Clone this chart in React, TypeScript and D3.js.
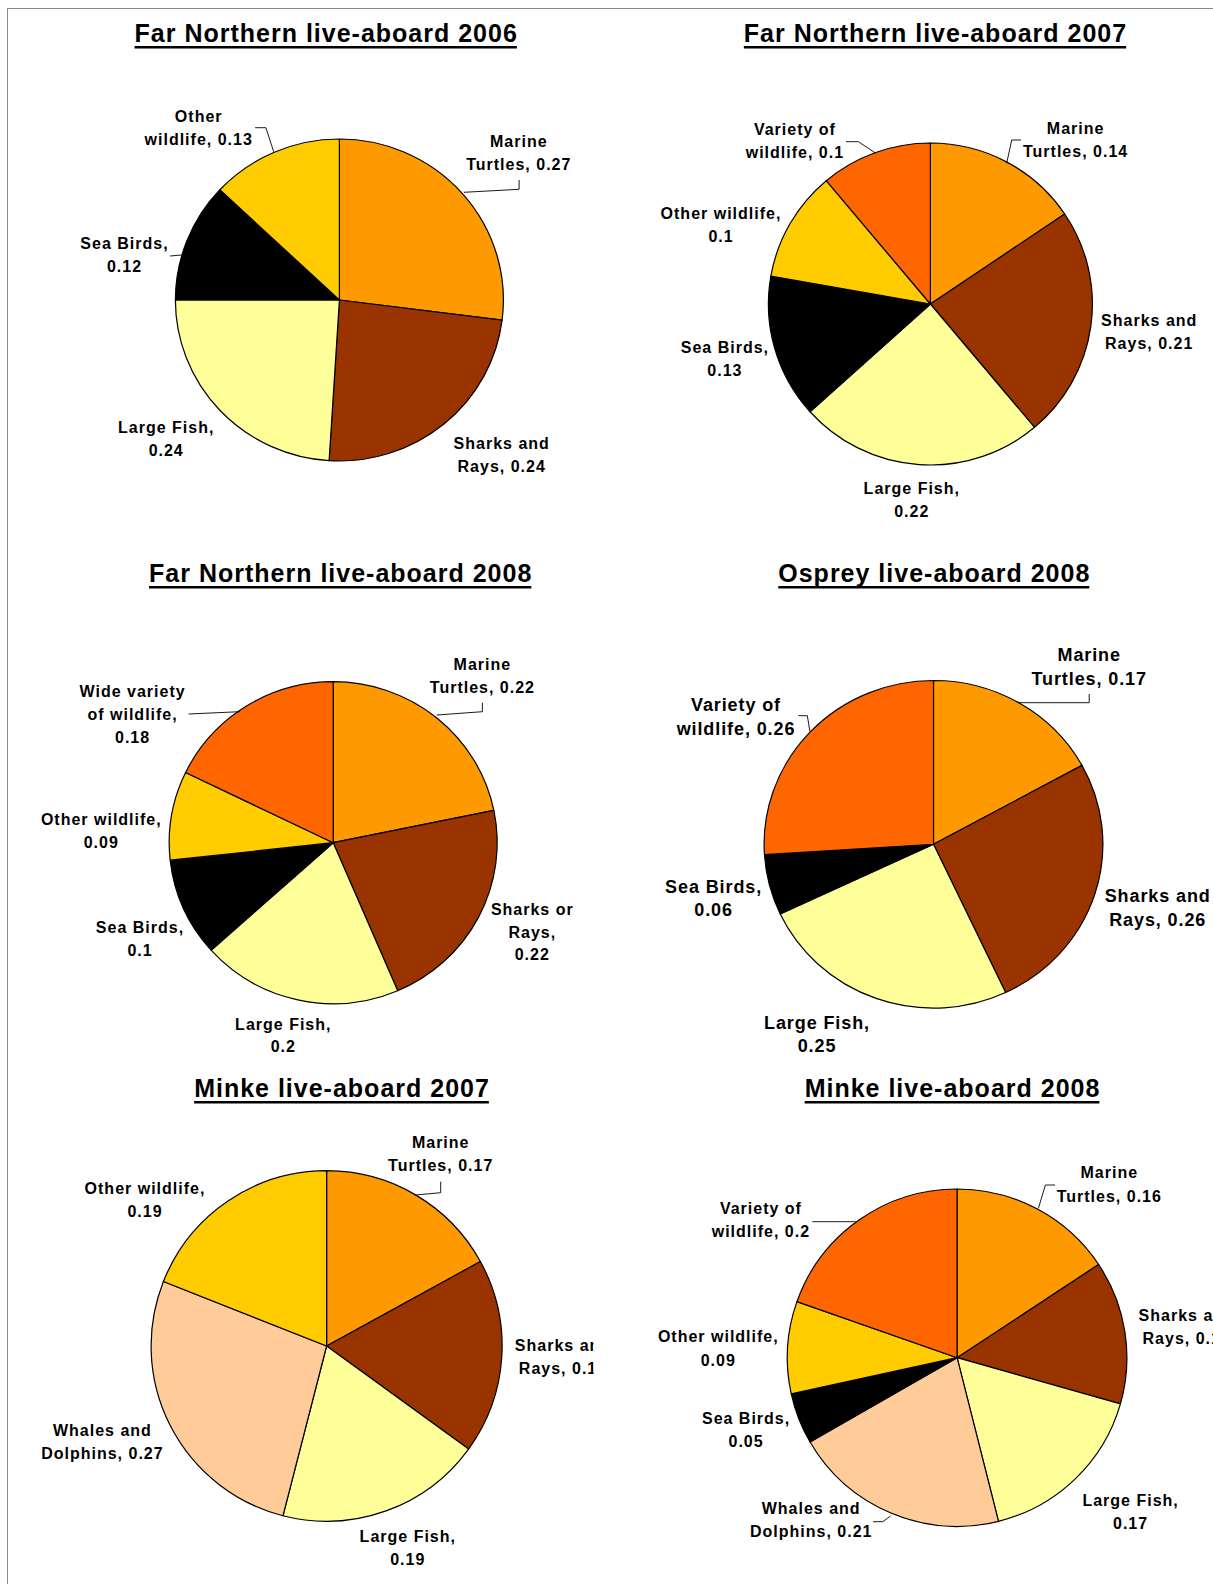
import React, { useEffect, useRef } from "react";
import * as d3 from "d3";

// ---------- DATA ----------
const TITLES = [
  "Far Northern live-aboard 2006",
  "Far Northern live-aboard 2007",
  "Far Northern live-aboard 2008",
  "Osprey live-aboard 2008",
  "Minke live-aboard 2007",
  "Minke live-aboard 2008",
];

const FN2006_CATEGORIES = ["Marine Turtles", "Sharks and Rays", "Large Fish", "Sea Birds", "Other wildlife"];
const FN2006_VALUES = [0.27, 0.24, 0.24, 0.12, 0.13];

const FN2007_CATEGORIES = ["Marine Turtles", "Sharks and Rays", "Large Fish", "Sea Birds", "Other wildlife", "Variety of wildlife"];
const FN2007_VALUES = [0.14, 0.21, 0.22, 0.13, 0.1, 0.1];

const FN2008_CATEGORIES = ["Marine Turtles", "Sharks or Rays", "Large Fish", "Sea Birds", "Other wildlife", "Wide variety of wildlife"];
const FN2008_VALUES = [0.22, 0.22, 0.2, 0.1, 0.09, 0.18];

const OSPREY2008_CATEGORIES = ["Marine Turtles", "Sharks and Rays", "Large Fish", "Sea Birds", "Variety of wildlife"];
const OSPREY2008_VALUES = [0.17, 0.26, 0.25, 0.06, 0.26];

const MINKE2007_CATEGORIES = ["Marine Turtles", "Sharks and Rays", "Large Fish", "Whales and Dolphins", "Other wildlife"];
const MINKE2007_VALUES = [0.17, 0.18, 0.19, 0.27, 0.19];

const MINKE2008_CATEGORIES = ["Marine Turtles", "Sharks and Rays", "Large Fish", "Whales and Dolphins", "Sea Birds", "Other wildlife", "Variety of wildlife"];
const MINKE2008_VALUES = [0.16, 0.14, 0.17, 0.21, 0.05, 0.09, 0.2];

// ---------- STYLES ----------
const COLORS: Record<string, string> = {
  "Marine Turtles": "#FF9900",
  "Sharks and Rays": "#993300",
  "Sharks or Rays": "#993300",
  "Large Fish": "#FFFF99",
  "Sea Birds": "#000000",
  "Other wildlife": "#FFCC00",
  "Variety of wildlife": "#FF6600",
  "Wide variety of wildlife": "#FF6600",
  "Whales and Dolphins": "#FFCC99",
};

const FONT = "'Liberation Sans', Arial, Helvetica, sans-serif";

type Pt = [number, number];
type LabelLayout = { x: number; y: number; lines: number[]; leader?: Pt[] };
type ChartLayout = {
  cx: number; cy: number; rx: number; ry: number;
  titleX: number; titleY: number;
  fs: number; ls: number; gap: number;
  clip: boolean;
  labels: LabelLayout[];
};

// ---------- LAYOUT ----------
const LAYOUTS: ChartLayout[] = [
  {
    cx: 339.4, cy: 300, rx: 164, ry: 161, titleX: 326.2, titleY: 41.7, fs: 16, ls: 1.0, gap: 22.7, clip: true,
    labels: [
      { x: 518.8, y: 141.7, lines: [1, 2], leader: [[519.1, 180], [519.1, 189.3], [463.9, 192.3]] },
      { x: 501.7, y: 443.3, lines: [2, 2] },
      { x: 166.2, y: 427.3, lines: [2, 1] },
      { x: 124.5, y: 243.3, lines: [2, 1], leader: [[170, 256], [181.5, 255]] },
      { x: 198.7, y: 116.7, lines: [1, 2], leader: [[255.1, 127.7], [265.9, 127.7], [273.7, 151.7]] },
    ],
  },
  {
    cx: 930.4, cy: 304, rx: 162, ry: 161, titleX: 935.5, titleY: 41.7, fs: 16, ls: 1.0, gap: 22.7, clip: false,
    labels: [
      { x: 1075.6, y: 128.3, lines: [1, 2], leader: [[1021, 140], [1011.7, 140], [1006.7, 163.3]] },
      { x: 1149.2, y: 320.7, lines: [2, 2] },
      { x: 911.8, y: 488.3, lines: [2, 1] },
      { x: 724.9, y: 347.3, lines: [2, 1] },
      { x: 721, y: 213.3, lines: [2, 1] },
      { x: 794.9, y: 129.3, lines: [2, 2], leader: [[846, 141.7], [858.4, 141.7], [875.8, 153.3]] },
    ],
  },
  {
    cx: 333.2, cy: 842.7, rx: 164, ry: 161, titleX: 340.7, titleY: 581.7, fs: 16, ls: 1.0, gap: 22.7, clip: true,
    labels: [
      { x: 482.4, y: 664.3, lines: [1, 2], leader: [[482.4, 702.7], [482.4, 711.7], [436.8, 715]] },
      { x: 532.3, y: 909.3, lines: [2, 1, 1] },
      { x: 283.3, y: 1024, lines: [2, 1] },
      { x: 140, y: 927.3, lines: [2, 1] },
      { x: 101.3, y: 819.3, lines: [2, 1] },
      { x: 132.6, y: 691.7, lines: [2, 2, 1], leader: [[188.6, 714], [239.7, 711.7]] },
    ],
  },
  {
    cx: 933.5, cy: 844.3, rx: 169.4, ry: 163.8, titleX: 934.3, titleY: 581.7, fs: 18, ls: 0.9, gap: 23.3, clip: false,
    labels: [
      { x: 1089.2, y: 655, lines: [1, 2], leader: [[1089.2, 694], [1089.2, 702.7], [1018.3, 702.7]] },
      { x: 1157.7, y: 896, lines: [2, 2] },
      { x: 817, y: 1022.7, lines: [2, 1] },
      { x: 713.6, y: 886.7, lines: [2, 1] },
      { x: 736, y: 705, lines: [2, 2], leader: [[798.4, 715.7], [807.3, 715.7], [810, 731.7]] },
    ],
  },
  {
    cx: 326.6, cy: 1346, rx: 175.5, ry: 175.3, titleX: 342, titleY: 1096.7, fs: 16, ls: 1.0, gap: 23, clip: true,
    labels: [
      { x: 440.7, y: 1142.7, lines: [1, 2], leader: [[440.7, 1181.7], [440.7, 1192.7], [415.5, 1195]] },
      { x: 563, y: 1345, lines: [2, 2] },
      { x: 407.8, y: 1536, lines: [2, 1] },
      { x: 102.4, y: 1430.7, lines: [2, 2] },
      { x: 145, y: 1188.3, lines: [2, 1] },
    ],
  },
  {
    cx: 957.1, cy: 1357.7, rx: 169.8, ry: 168.7, titleX: 952.5, titleY: 1096.7, fs: 16, ls: 1.0, gap: 23.3, clip: false,
    labels: [
      { x: 1109.3, y: 1172.7, lines: [1, 2], leader: [[1055, 1185], [1045.4, 1185], [1038.4, 1208.3]] },
      { x: 1186.7, y: 1315, lines: [2, 2] },
      { x: 1130.6, y: 1500, lines: [2, 1] },
      { x: 811.2, y: 1508.3, lines: [2, 2], leader: [[873.1, 1521.7], [882.8, 1521.7], [890.5, 1516]] },
      { x: 746.1, y: 1418.3, lines: [2, 1] },
      { x: 718.3, y: 1336.7, lines: [2, 1] },
      { x: 760.9, y: 1208.3, lines: [2, 2], leader: [[812.3, 1221.7], [855.7, 1221.7]] },
    ],
  },
];

const CHART_DATA: { categories: string[]; values: number[] }[] = [
  { categories: FN2006_CATEGORIES, values: FN2006_VALUES },
  { categories: FN2007_CATEGORIES, values: FN2007_VALUES },
  { categories: FN2008_CATEGORIES, values: FN2008_VALUES },
  { categories: OSPREY2008_CATEGORIES, values: OSPREY2008_VALUES },
  { categories: MINKE2007_CATEGORIES, values: MINKE2007_VALUES },
  { categories: MINKE2008_CATEGORIES, values: MINKE2008_VALUES },
];

const W = 1213;
const H = 1584;

export default function App() {
  const ref = useRef<SVGSVGElement>(null);

  useEffect(() => {
    if (!ref.current) return;
    const svg = d3.select(ref.current);
    svg.selectAll("*").remove();

    svg.append("rect").attr("x", 0).attr("y", 0).attr("width", W).attr("height", H).attr("fill", "#fff");

    const defs = svg.append("defs");
    defs.append("clipPath").attr("id", "clipLeft")
      .append("rect").attr("x", 0).attr("y", 0).attr("width", 593.5).attr("height", H);

    // frame
    svg.append("line").attr("x1", 7.5).attr("x2", 7.5).attr("y1", 8).attr("y2", H)
      .attr("stroke", "#8c8c8c").attr("stroke-width", 1);
    svg.append("line").attr("x1", 7).attr("x2", W).attr("y1", 8.5).attr("y2", 8.5)
      .attr("stroke", "#8c8c8c").attr("stroke-width", 1);

    const pie = d3.pie<number>().sort(null).value((d) => d);

    LAYOUTS.forEach((L, ci) => {
      const { categories, values } = CHART_DATA[ci];
      const g = svg.append("g").attr("clip-path", L.clip ? "url(#clipLeft)" : null);

      // title
      const title = g.append("text")
        .attr("x", L.titleX).attr("y", L.titleY)
        .attr("text-anchor", "middle")
        .attr("font-family", FONT).attr("font-weight", "bold")
        .attr("font-size", 25).attr("letter-spacing", 1)
        .attr("fill", "#000")
        .text(TITLES[ci]);
      const tb = (title.node() as SVGTextElement).getBBox();
      g.append("line")
        .attr("x1", tb.x).attr("x2", tb.x + tb.width - 1)
        .attr("y1", L.titleY + 5.5).attr("y2", L.titleY + 5.5)
        .attr("stroke", "#000").attr("stroke-width", 2.6);

      // pie
      const arcs = pie(values);
      const arc = d3.arc<d3.PieArcDatum<number>>().innerRadius(0).outerRadius(L.rx);
      g.append("g")
        .attr("transform", `translate(${L.cx},${L.cy}) scale(1,${L.ry / L.rx})`)
        .selectAll("path")
        .data(arcs)
        .join("path")
        .attr("d", arc as any)
        .attr("fill", (_d, i) => COLORS[categories[i]])
        .attr("stroke", "#000")
        .attr("stroke-width", 1.2)
        .attr("stroke-linejoin", "round")
        .attr("vector-effect", "non-scaling-stroke");

      // leaders
      L.labels.forEach((lab) => {
        if (!lab.leader) return;
        g.append("path")
          .attr("d", d3.line()(lab.leader as [number, number][]) as string)
          .attr("fill", "none")
          .attr("stroke", "#000")
          .attr("stroke-width", 0.9);
      });

      // labels
      L.labels.forEach((lab, i) => {
        const words = `${categories[i]}, ${values[i]}`.split(" ");
        const lines: string[] = [];
        let k = 0;
        lab.lines.forEach((n) => {
          lines.push(words.slice(k, k + n).join(" "));
          k += n;
        });
        const t = g.append("text")
          .attr("text-anchor", "middle")
          .attr("font-family", FONT).attr("font-weight", "bold")
          .attr("font-size", L.fs).attr("letter-spacing", L.ls)
          .attr("fill", "#000");
        lines.forEach((ln, li) => {
          t.append("tspan")
            .attr("x", lab.x)
            .attr("y", lab.y + li * L.gap + L.fs * 0.36)
            .text(ln);
        });
      });
    });
  }, []);

  return (
    <div style={{ position: "absolute", left: 0, top: 0 }}>
      <svg ref={ref} width={W} height={H} style={{ display: "block" }} />
    </div>
  );
}
